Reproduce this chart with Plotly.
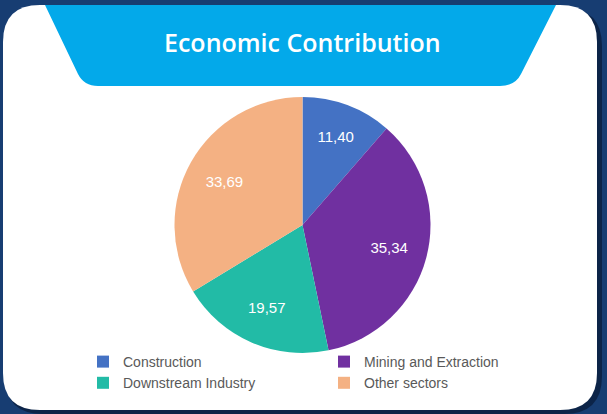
import plotly.graph_objects as go

title_text = "Economic Contribution"
sectors = ["Construction", "Mining and Extraction", "Downstream Industry", "Other sectors"]
shares = [11.40, 35.34, 19.57, 33.69]
colors = ["#4472C4", "#7030A0", "#22BBA6", "#F4B183"]

W, H = 607, 414


def px(x):
    return x / W


def py(y):
    return 1 - y / H


def path(points):
    out = []
    for cmd, *c in points:
        if cmd == "Z":
            out.append("Z")
        else:
            vals = []
            for i in range(0, len(c), 2):
                vals.append(f"{px(c[i]):.5f},{py(c[i+1]):.5f}")
            out.append(cmd + " ".join(vals))
    return " ".join(out)


def rounded_rect(x0, y0, x1, y1, r):
    return path([
        ("M", x0 + r, y0), ("L", x1 - r, y0), ("Q", x1, y0, x1, y0 + r),
        ("L", x1, y1 - r), ("Q", x1, y1, x1 - r, y1), ("L", x0 + r, y1),
        ("Q", x0, y1, x0, y1 - r), ("L", x0, y0 + r), ("Q", x0, y0, x0 + r, y0), ("Z",),
    ])


cx, cy, R = 302.5, 225, 128
pie_domain = dict(x=[px(cx - R), px(cx + R)], y=[py(cy + R), py(cy - R)])

fig = go.Figure()
# visible slices
fig.add_trace(go.Pie(
    labels=sectors,
    values=shares,
    marker=dict(colors=colors, line=dict(width=0)),
    sort=False,
    direction="clockwise",
    rotation=0,
    textinfo="none",
    hoverinfo="label+value",
    domain=pie_domain,
))
# transparent overlay carrying the value labels further out (ring centre)
fig.add_trace(go.Pie(
    labels=sectors,
    values=shares,
    marker=dict(colors=["rgba(0,0,0,0)"] * len(sectors), line=dict(width=0)),
    sort=False,
    direction="clockwise",
    rotation=0,
    hole=0.40,
    textinfo="value",
    texttemplate="%{value:.2f}",
    textposition="inside",
    insidetextorientation="horizontal",
    textfont=dict(family="Liberation Sans, Arial", size=15, color="white"),
    hoverinfo="skip",
    showlegend=False,
    domain=pie_domain,
))

shapes = [
    dict(type="path", xref="paper", yref="paper", layer="below",
         path=rounded_rect(5, 8, 602, 414, 38), fillcolor="rgba(5,20,45,0.6)",
         line=dict(width=0)),
    dict(type="path", xref="paper", yref="paper", layer="below",
         path=rounded_rect(3, 5, 597, 410, 37), fillcolor="white",
         line=dict(width=0)),
    dict(type="path", xref="paper", yref="paper", layer="below",
         path=path([("M", 45, 5), ("L", 556, 5), ("L", 521, 74),
                    ("Q", 515, 86, 500, 86), ("L", 98, 86),
                    ("Q", 84, 86, 78, 74), ("Z",)]),
         fillcolor="#03A9EA", line=dict(width=0)),
]

fig.update_layout(
    width=W, height=H,
    margin=dict(l=0, r=0, t=0, b=0, autoexpand=False),
    paper_bgcolor="#173D72",
    plot_bgcolor="rgba(0,0,0,0)",
    separators=",.",
    shapes=shapes,
    annotations=[dict(
        text=title_text, xref="paper", yref="paper", x=px(302), y=py(42),
        xanchor="center", yanchor="middle", showarrow=False,
        font=dict(family="Open Sans", size=25, color="white", weight=600),
    )],
    showlegend=True,
    legend=dict(
        orientation="h", x=px(83), y=py(346), xanchor="left", yanchor="top",
        entrywidth=196, entrywidthmode="pixels",
        font=dict(family="Liberation Sans", size=14, color="#595959"),
        bgcolor="rgba(0,0,0,0)", tracegroupgap=0, itemclick=False,
    ),
)

fig.write_html(
    "out.html",
    config={"displayModeBar": False},
    post_script="document.body.style.margin='0px';document.body.style.overflow='hidden';",
)
